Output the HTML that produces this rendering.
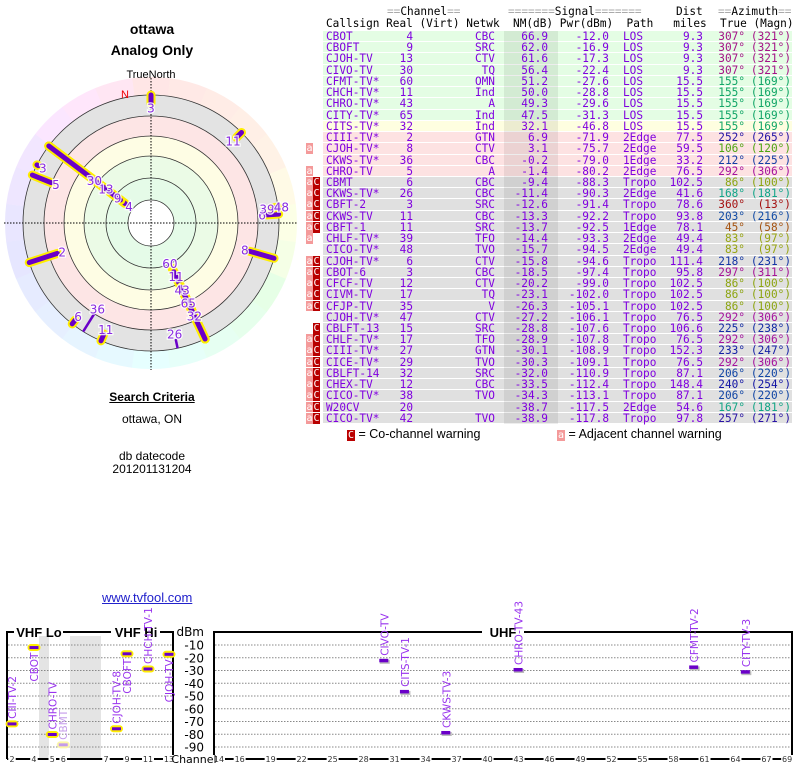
<!DOCTYPE html>
<html><head><meta charset="utf-8">
<style>
html,body{margin:0;padding:0;background:#fff;width:800px;height:768px;overflow:hidden;position:relative;font-family:"Liberation Sans",sans-serif}
.t{position:absolute;white-space:pre}
.mono{font-family:"DejaVu Sans Mono","Liberation Mono",monospace;font-size:11.1px}
#tbl div{position:absolute;white-space:pre}
.g{color:#aaa}
</style></head><body>
<div class="t" style="left:0;width:304px;text-align:center;top:21px;font-weight:bold;font-size:14px">ottawa</div>
<div class="t" style="left:0;width:304px;text-align:center;top:42px;font-weight:bold;font-size:14px">Analog Only</div>
<div class="t" style="left:0;width:304px;text-align:center;top:390px;font-weight:bold;font-size:12px;text-decoration:underline">Search Criteria</div>
<div class="t" style="left:0;width:304px;text-align:center;top:412px;font-size:12px">ottawa, ON</div>
<div class="t" style="left:0;width:304px;text-align:center;top:449px;font-size:12px">db datecode</div>
<div class="t" style="left:0;width:304px;text-align:center;top:462px;font-size:12px">201201131204</div>
<a class="t" href="#" style="left:102px;top:590px;font-size:13px;color:#22c;text-decoration:underline">www.tvfool.com</a>

<svg id="polar" width="304" height="380" style="position:absolute;left:0;top:0" xmlns="http://www.w3.org/2000/svg"></svg>

<div class="mono" id="hdr">
<div class="t" style="left:387px;top:5px"><span class="g">==</span>Channel<span class="g">==</span></div>
<div class="t" style="left:508px;top:5px"><span class="g">=======</span>Signal<span class="g">=======</span></div>
<div class="t" style="left:676px;top:5px">Dist</div>
<div class="t" style="left:718px;top:5px"><span class="g">==</span>Azimuth<span class="g">==</span></div>
<div class="t" style="left:326px;top:17px">Callsign Real (Virt) Netwk  NM(dB) Pwr(dBm)  Path   miles  True (Magn)</div>
</div>
<div id="tbl" class="mono"></div>
<div class="t" style="left:347px;top:427px;font-size:12.5px"><span style="background:#b00;color:#fff;font-family:'DejaVu Sans Mono',monospace;font-size:10px;padding:0 1px">C</span> = Co-channel warning</div>
<div class="t" style="left:557px;top:427px;font-size:12.5px"><span style="background:#f49a9a;color:#fff;font-family:'DejaVu Sans Mono',monospace;font-size:10px;padding:0 1px">a</span> = Adjacent channel warning</div>

<svg id="spec" width="800" height="768" style="position:absolute;left:0;top:0;pointer-events:none" xmlns="http://www.w3.org/2000/svg"></svg>

<script>
// ---------- TABLE DATA ----------
const calls=["CBOT","CBOFT","CJOH-TV","CIVO-TV","CFMT-TV*","CHCH-TV*","CHRO-TV*","CITY-TV*","CITS-TV*","CIII-TV*","CJOH-TV*","CKWS-TV*","CHRO-TV","CBMT","CKWS-TV*","CBFT-2","CKWS-TV","CBFT-1","CHLF-TV*","CICO-TV*","CJOH-TV*","CBOT-6","CFCF-TV","CIVM-TV","CFJP-TV","CJOH-TV*","CBLFT-13","CHLF-TV*","CIII-TV*","CICE-TV*","CBLFT-14","CHEX-TV","CICO-TV*","W20CV","CICO-TV*"];
const reals=[4,9,13,30,60,11,43,65,32,2,8,36,5,6,26,3,11,11,39,48,6,3,12,17,35,47,15,17,27,29,32,12,38,20,42];
const netwks=["CBC","SRC","CTV","TQ","OMN","Ind","A","Ind","Ind","GTN","CTV","CBC","A","CBC","CBC","SRC","CBC","SRC","TFO","TVO","CTV","CBC","CTV","TQ","V","CTV","SRC","TFO","GTN","TVO","SRC","CBC","TVO","","TVO"];
const nms=[66.9,62.0,61.6,56.4,51.2,50.0,49.3,47.5,32.1,6.9,3.1,-0.2,-1.4,-9.4,-11.4,-12.6,-13.3,-13.7,-14.4,-15.7,-15.8,-18.5,-20.2,-23.1,-26.3,-27.2,-28.8,-28.9,-30.1,-30.3,-32.0,-33.5,-34.3,-38.7,-38.9];
const pwrs=[-12.0,-16.9,-17.3,-22.4,-27.6,-28.8,-29.6,-31.3,-46.8,-71.9,-75.7,-79.0,-80.2,-88.3,-90.3,-91.4,-92.2,-92.5,-93.3,-94.5,-94.6,-97.4,-99.0,-102.0,-105.1,-106.1,-107.6,-107.8,-108.9,-109.1,-110.9,-112.4,-113.1,-117.5,-117.8];
const paths=["LOS","LOS","LOS","LOS","LOS","LOS","LOS","LOS","LOS","2Edge","2Edge","1Edge","2Edge","Tropo","2Edge","Tropo","Tropo","1Edge","2Edge","2Edge","Tropo","Tropo","Tropo","Tropo","Tropo","Tropo","Tropo","Tropo","Tropo","Tropo","Tropo","Tropo","Tropo","2Edge","Tropo"];
const dists=[9.3,9.3,9.3,9.3,15.5,15.5,15.5,15.5,15.5,77.5,59.5,33.2,76.5,102.5,41.6,78.6,93.8,78.1,49.4,49.4,111.4,95.8,102.5,102.5,102.5,76.5,106.6,76.5,152.3,76.5,87.1,148.4,87.1,54.6,97.8];
const trues=[307,307,307,307,155,155,155,155,155,252,106,212,292,86,168,360,203,45,83,83,218,297,86,86,86,292,225,292,233,292,206,240,206,167,257];
const magns=[321,321,321,321,169,169,169,169,169,265,120,225,306,100,181,13,216,58,97,97,231,311,100,100,100,306,238,306,247,306,220,254,220,181,271];
const warns=["","","","","","","","","","","a","","a","aC","aC","aC","aC","aC","a","","aC","aC","aC","aC","aC","","C","aC","aC","aC","aC","aC","aC","aC","aC"];

function azColor(az){
  const a=az%360;
  let h;
  if(a<60) h=a*0.6; else if(a<110) h=36+(a-60)*1.3; else if(a<200) h=a; else if(a<270) h=215+(a-200)*0.6; else h=290+(a-270)*0.6;
  return 'hsl('+h.toFixed(0)+',80%,36%)';
}
const tbl=document.getElementById('tbl');
const ROW0=31, RH=11.23;
function cell(parent,txt,x,right,y,color){
  const d=document.createElement('div');
  d.textContent=txt;
  if(right){d.style.right=(800-x)+'px';}else{d.style.left=x+'px';}
  d.style.top=(y-1)+'px';
  d.style.color=color;
  parent.appendChild(d);
  return d;
}
for(let i=0;i<calls.length;i++){
  const y=ROW0+i*RH;
  const row=document.createElement('div');
  
  
  const bg=nms[i]>=40?'#e4fde4':nms[i]>=15?'#fefee0':nms[i]>-5?'#fde2e2':'#e0e0e0';
  row.style.cssText='left:323px;top:'+y+'px;width:469px;height:'+(RH-1)+'px;background:'+bg;
  tbl.appendChild(row);
  const sh=document.createElement('div');
  sh.style.cssText='left:504px;top:'+y+'px;width:54px;height:'+RH+'px;background:rgba(0,0,0,0.07)';
  tbl.appendChild(sh);
  const pc='#8000e0';
  cell(tbl,calls[i],326,false,y,pc);
  cell(tbl,String(reals[i]),413,true,y,pc);
  cell(tbl,netwks[i],495,true,y,pc);
  cell(tbl,nms[i].toFixed(1),548,true,y,pc);
  cell(tbl,pwrs[i].toFixed(1),609,true,y,pc);
  cell(tbl,paths[i],623,false,y,pc);
  cell(tbl,dists[i].toFixed(1),703,true,y,pc);
  const ac=azColor(trues[i]);
  cell(tbl,trues[i]+'°',745,true,y,ac);
  cell(tbl,'('+magns[i]+'°)',791,true,y,ac);
  const w=warns[i];
  if(w.indexOf('a')>=0){
    const b=document.createElement('div');
    
    
    b.textContent='a';
    b.style.cssText='left:306px;top:'+y+'px;width:7px;height:'+(RH-0.5)+'px;background:#f49a9a;color:#fff;font-size:10px;line-height:11px;text-align:center';
    tbl.appendChild(b);
  }
  if(w.indexOf('C')>=0){
    const b=document.createElement('div');
    
    
    b.textContent='C';
    b.style.cssText='left:313px;top:'+y+'px;width:7px;height:'+(RH-0.5)+'px;background:#b80000;color:#fff;font-size:10px;line-height:11px;text-align:center';
    tbl.appendChild(b);
  }
}

// ---------- POLAR ----------
const NS='http://www.w3.org/2000/svg';
function el(parent,tag,attrs){const e=document.createElementNS(NS,tag);for(const k in attrs)e.setAttribute(k,attrs[k]);parent.appendChild(e);return e;}
const P=document.getElementById('polar');
const CX=151, CY=223, ROUT=128;
function pt(r,az){const a=az*Math.PI/180;return [CX+r*Math.sin(a),CY-r*Math.cos(a)];}
function annulus(r1,r2,a1,a2){
  const p1=pt(r2,a1),p2=pt(r2,a2),p3=pt(r1,a2),p4=pt(r1,a1);
  return 'M'+p1+' A'+r2+' '+r2+' 0 0 1 '+p2+' L'+p3+' A'+r1+' '+r1+' 0 0 0 '+p4+'Z';
}
for(let a=0;a<360;a+=15){
  const h=a<60?a*0.5:a<110?30+(a-60)*1.2:a<200?a:a<300?200+(a-200)*0.7:270+(a-300)*1.3;
  const w=el(P,'path',{d:annulus(ROUT,146,a-7.5,a+7.6),fill:'hsl('+h.toFixed(0)+',100%,95%)'});
  
  
}
const bands=[[128,'#e3e3e3'],[107,'#fde5e5'],[87,'#fefde4'],[67,'#ebfbe6'],[45,'#e5fbe8'],[23,'#ffffff']];
bands.forEach(b=>{el(P,'circle',{cx:CX,cy:CY,r:b[0],fill:b[1]});});
[23,45,67,87,107,128].forEach(r=>{const c=el(P,'circle',{cx:CX,cy:CY,r:r,fill:'none',stroke:'#333','stroke-width':0.8});});
el(P,'line',{x1:4,y1:CY,x2:298,y2:CY,stroke:'#000','stroke-width':1,'stroke-dasharray':'1.5,1.5'});
el(P,'line',{x1:CX,y1:78,x2:CX,y2:370,stroke:'#000','stroke-width':1,'stroke-dasharray':'1.5,1.5'});
const tn=el(P,'text',{x:CX,y:78,'text-anchor':'middle','font-size':11,'font-family':'Liberation Sans, sans-serif',fill:'#000'});tn.textContent='TrueNorth';

const nl=el(P,'text',{x:125,y:98,'text-anchor':'middle','font-size':11,'font-family':'Liberation Sans, sans-serif',fill:'#e00'});nl.textContent='N';


// polar stations (NM > -20 shown)
const pAz=[307,307,307,307,155,155,155,155,155,252,106,212,292,86,168,360,203,45,83,83,218,297];
const pNm=[66.9,62.0,61.6,56.4,51.2,50.0,49.3,47.5,32.1,6.9,3.1,-0.2,-1.4,-9.4,-11.4,-12.6,-13.3,-13.7,-14.4,-15.7,-15.8,-18.5];
const pLbl=["4","9","13","30","60","11","43","65","32","2","8","36","5","6","26","3","11","11","39","48","6","3"];
const pHl=[1,1,1,1,1,1,1,1,1,1,1,0,1,1,0,1,1,1,1,1,1,1];
function rInner(nm){return ROUT-(nm+20)*1.1;}
const order=pNm.map((v,i)=>i).sort((a,b)=>pNm[a]-pNm[b]);
order.reverse();
order.forEach(i=>{
  const a=pt(rInner(pNm[i]),pAz[i]), b=pt(ROUT,pAz[i]);
  const g=el(P,'g',{});
  
  
  if(pHl[i]){
    el(g,'line',{x1:a[0],y1:a[1],x2:b[0],y2:b[1],stroke:'#ffee00','stroke-width':9,'stroke-linecap':'round'});
    el(g,'line',{x1:a[0],y1:a[1],x2:b[0],y2:b[1],stroke:'#6a00c8','stroke-width':5,'stroke-linecap':'round'});
  } else {
    el(g,'line',{x1:a[0],y1:a[1],x2:b[0],y2:b[1],stroke:'#6a00c8','stroke-width':2.5});
  }
});
const lastR={};
pNm.map((v,i)=>i).sort((a,b)=>rInner(pNm[a])-rInner(pNm[b])).forEach(i=>{
  let r=rInner(pNm[i])-5;
  const k=pAz[i];
  if(lastR[k]!==undefined && r<lastR[k]+14.5) r=lastR[k]+14.5;
  lastR[k]=r;
  const p=pt(r,pAz[i]);
  const t=el(P,'text',{x:p[0],y:p[1]+4.5,'text-anchor':'middle','font-size':12,'font-family':'DejaVu Sans, sans-serif',fill:'#8a2be2',stroke:'#fff','stroke-width':2.5,'paint-order':'stroke','stroke-opacity':0.85});
  t.textContent=pLbl[i];
  
  
});

// ---------- SPECTRUM CHART ----------
const S=document.getElementById('spec');
const bCalls=["CIII-TV-2","CBOT","CHRO-TV","CBMT","CJOH-TV-8","CBOFT","CHCH-TV-1","CJOH-TV","CIVO-TV","CITS-TV-1","CKWS-TV-3","CHRO-TV-43","CFMT-TV-2","CITY-TV-3"];
const bCh=[2,4,5,6,8,9,11,13,30,32,36,43,60,65];
const bDbm=[-71.9,-12.0,-80.2,-88.3,-75.7,-16.9,-28.8,-17.3,-22.4,-46.8,-79.0,-29.6,-27.6,-31.3];
const bFade=[0,0,0,1,0,0,0,0,0,0,0,0,0,0];
const gridDbm=[-10,-20,-30,-40,-50,-60,-70,-80,-90];
const vhfTicks=[2,4,5,6,7,9,11,13];
const uhfTicks=[14,16,19,22,25,28,31,34,37,40,43,46,49,52,55,58,61,64,67,69];
function chFreq(ch){return ch<=4?57+(ch-2)*6:ch<=6?79+(ch-5)*6:177+(ch-7)*6;}
function xCh(ch){
  if(ch>=14) return 219+(ch-14)*10.33;
  const f=chFreq(ch);
  return f<100?12+(f-57)*1.83:106+(f-177)*1.75;
}
function yDbm(d){return 645+(-10-d)*1.275;}
el(S,'rect',{x:39,y:636,width:10,height:122,fill:'#e4e4e4'});
el(S,'rect',{x:70,y:636,width:31,height:122,fill:'#e4e4e4'});
gridDbm.forEach(d=>{
  const y=yDbm(d);
  el(S,'line',{x1:8,y1:y,x2:172,y2:y,stroke:'#888','stroke-width':1,'stroke-dasharray':'1.5,1.5'});
  el(S,'line',{x1:215,y1:y,x2:791,y2:y,stroke:'#888','stroke-width':1,'stroke-dasharray':'1.5,1.5'});
  const t=el(S,'text',{x:204,y:y+4.5,'text-anchor':'end','font-size':12,'font-family':'DejaVu Sans, sans-serif',fill:'#000'});
  t.textContent=String(d);
  
});
const dbl=el(S,'text',{x:204,y:636,'text-anchor':'end','font-size':12,'font-family':'DejaVu Sans, sans-serif',fill:'#000'});dbl.textContent='dBm';

const fr='#000';
el(S,'path',{d:'M7,759 V632 H14 M63,632 H111 M160,632 H173 V759',fill:'none',stroke:fr,'stroke-width':2});
el(S,'path',{d:'M214,759 V632 H482 M524,632 H792 V759',fill:'none',stroke:fr,'stroke-width':2});
[['VHF Lo',39],['VHF Hi',136],['UHF',503]].forEach(a=>{
  const t=el(S,'text',{x:a[1],y:637,'text-anchor':'middle','font-size':13,'font-weight':'bold','font-family':'Liberation Sans, sans-serif',fill:'#000'});
  t.textContent=a[0];
  
});
el(S,'line',{x1:7,y1:759,x2:173,y2:759,stroke:'#000','stroke-width':2});
el(S,'line',{x1:214,y1:759,x2:792,y2:759,stroke:'#000','stroke-width':2});
vhfTicks.concat(uhfTicks).forEach(ch=>{
  const x=xCh(ch), w=ch>=10?10:5.5;
  el(S,'rect',{x:x-w/2-1,y:755,width:w+2,height:8,fill:'#fff'});
  const t=el(S,'text',{x:x,y:762,'text-anchor':'middle','font-size':8,'font-family':'DejaVu Sans, sans-serif',fill:'#333'});
  t.textContent=String(ch);
  
});
el(S,'rect',{x:175,y:752,width:38,height:14,fill:'#fff'});
const chl=el(S,'text',{x:194,y:763,'text-anchor':'middle','font-size':11,'font-family':'DejaVu Sans, sans-serif',fill:'#000'});chl.textContent='Channel';

for(let i=0;i<bCalls.length;i++){
  const x=xCh(bCh[i]), y=yDbm(bDbm[i]);
  const g=el(S,'g',{});
  
  
  const vhf=bCh[i]<14;
  if(vhf){
    el(g,'rect',{x:x-6.5,y:y-3.5,width:13,height:7,rx:3.5,fill:bFade[i]?'#fdf7a8':'#ffee00'});
    el(g,'rect',{x:x-4.5,y:y-1.5,width:9,height:3,fill:bFade[i]?'#c49bea':'#6a00c8'});
  } else {
    el(g,'rect',{x:x-4.5,y:y-1,width:10,height:4,fill:'#bbb'});
    el(g,'rect',{x:x-5,y:y-2,width:9,height:3.5,fill:'#6a00c8'});
  }
  const below=bDbm[i]>-20;
  const tx=x+4, ty=below?y+5:y-5;
  const t=el(S,'text',{transform:'translate('+tx+','+ty+') rotate(-90)','text-anchor':below?'end':'start','font-size':10.5,'font-family':'DejaVu Sans, sans-serif',fill:bFade[i]?'#c49bea':'#9933ee'});
  t.textContent=bCalls[i];
  
  
}
</script>
</body></html>
